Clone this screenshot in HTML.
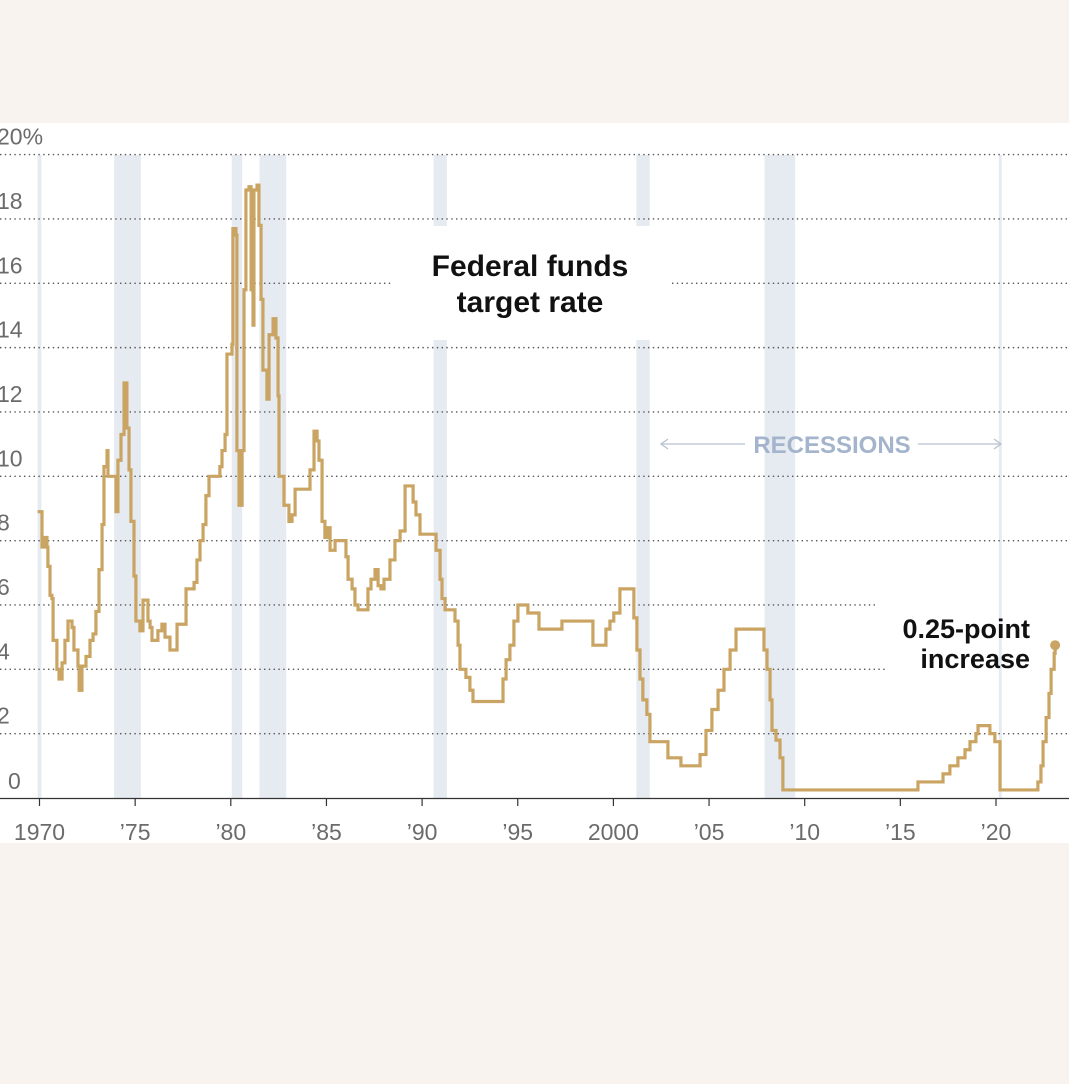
<!DOCTYPE html>
<html><head><meta charset="utf-8">
<style>
html,body{margin:0;padding:0;background:#f8f3ee;}
body{width:1069px;height:1084px;position:relative;overflow:hidden;font-family:"Liberation Sans",sans-serif;}
#panel{position:absolute;left:0;top:123px;width:1069px;height:720px;background:#fff;}
svg{position:absolute;left:0;top:0;}
</style></head>
<body>
<div id="panel"></div>
<svg id="chart" width="1069" height="1084"></svg>
<script>
const years = [1969.9,1970.13,1970.29,1970.39,1970.44,1970.55,1970.65,1970.71,1970.91,1971.02,1971.18,1971.33,1971.49,1971.70,1971.80,1972.01,1972.07,1972.22,1972.43,1972.64,1972.80,1972.95,1973.11,1973.27,1973.37,1973.53,1973.58,1974.00,1974.10,1974.26,1974.42,1974.57,1974.68,1974.78,1974.94,1975.04,1975.25,1975.41,1975.67,1975.78,1975.88,1976.19,1976.40,1976.56,1976.82,1977.19,1977.66,1978.08,1978.23,1978.39,1978.55,1978.70,1978.86,1979.43,1979.54,1979.70,1979.80,1980.06,1980.11,1980.27,1980.32,1980.43,1980.59,1980.69,1980.79,1980.95,1981.06,1981.16,1981.21,1981.37,1981.47,1981.58,1981.68,1981.89,1982.00,1982.21,1982.36,1982.47,1982.52,1982.78,1983.04,1983.20,1983.36,1983.88,1984.14,1984.35,1984.51,1984.61,1984.77,1984.92,1985.08,1985.19,1985.45,1986.02,1986.13,1986.34,1986.49,1986.65,1987.17,1987.33,1987.54,1987.70,1987.85,1988.01,1988.32,1988.58,1988.85,1989.11,1989.37,1989.53,1989.68,1989.89,1990.57,1990.73,1990.94,1991.04,1991.20,1991.72,1991.88,1991.98,1992.29,1992.50,1992.66,1994.07,1994.23,1994.39,1994.59,1994.80,1995.01,1995.53,1996.11,1997.31,1998.93,1999.61,1999.82,2000.02,2000.34,2001.07,2001.23,2001.39,2001.54,2001.75,2001.91,2002.85,2003.53,2004.53,2004.84,2005.15,2005.47,2005.78,2006.10,2006.41,2007.87,2008.03,2008.19,2008.29,2008.50,2008.71,2008.86,2015.92,2017.23,2017.59,2018.01,2018.38,2018.64,2018.95,2019.06,2019.68,2019.94,2020.21,2022.19,2022.35,2022.46,2022.62,2022.77,2022.88,2023.04,2023.09];
const rates = [8.9,7.8,8.1,7.8,7.2,6.3,6.2,4.9,4.0,3.7,4.2,4.9,5.5,5.3,4.6,4.1,3.35,4.1,4.4,4.9,5.1,5.8,7.1,8.5,10.3,10.8,10.0,8.9,10.5,11.3,12.9,11.5,10.2,8.6,6.9,5.5,5.2,6.15,5.5,5.3,4.9,5.2,5.4,5.0,4.6,5.4,6.5,6.7,7.4,8.0,8.5,9.4,10.0,10.3,10.8,11.3,13.8,14.1,17.7,17.5,10.8,9.1,10.8,15.8,18.9,19.0,15.8,14.7,18.9,19.05,17.8,15.5,13.3,12.4,14.4,14.9,14.3,12.5,10.0,9.1,8.6,8.8,9.6,9.6,10.2,11.4,11.1,10.5,8.6,8.1,8.4,7.7,8.0,7.5,6.8,6.5,6.0,5.85,6.5,6.8,7.1,6.6,6.5,6.8,7.4,8.0,8.3,9.7,9.7,9.2,8.8,8.2,8.2,7.7,6.8,6.2,5.85,5.5,4.75,4.0,3.75,3.35,3.0,3.0,3.7,4.3,4.75,5.5,6.0,5.75,5.25,5.5,4.75,5.25,5.5,5.75,6.5,5.6,4.6,3.7,3.05,2.6,1.75,1.25,1.0,1.35,2.1,2.75,3.35,4.0,4.6,5.25,4.6,4.0,3.05,2.1,1.8,1.25,0.25,0.5,0.75,1.0,1.25,1.5,1.75,2.0,2.25,2.0,1.75,0.25,0.5,1.0,1.75,2.5,3.25,4.0,4.5,4.75];
const recStart = [1969.9,1973.9,1980.05,1981.5,1990.6,2001.2,2007.9,2020.15];
const recEnd   = [1970.1,1975.3,1980.6,1982.9,1991.3,2001.9,2009.5,2020.3];
const yTicks = [0,2,4,6,8,10,12,14,16,18,20];
const xTickYears = [1970,1975,1980,1985,1990,1995,2000,2005,2010,2015,2020];
const xTickLabels = ["1970","’75","’80","’85","’90","’95","2000","’05","’10","’15","’20"];

const NS="http://www.w3.org/2000/svg";
const svg=document.getElementById('chart');
const X=y=>39.5+(y-1970)*19.13;
const Y=v=>798-v*32.17;
function mk(tag,attrs,parent){const e=document.createElementNS(NS,tag);for(const k in attrs)e.setAttribute(k,attrs[k]);(parent||svg).appendChild(e);return e;}

recStart.forEach((s,i)=>{
  const broken = (s>1990 && s<2002);
  if(broken){
    let r=mk('rect',{x:X(s),y:155,width:X(recEnd[i])-X(s),height:71,fill:'#e6ebf1'});
    
    
    let r2=mk('rect',{x:X(s),y:340,width:X(recEnd[i])-X(s),height:458,fill:'#e6ebf1'});
    
    
  } else {
    let r=mk('rect',{x:X(s),y:155,width:X(recEnd[i])-X(s),height:643,fill:'#e6ebf1'});
    
    
  }
});

yTicks.forEach(v=>{
  if(v===0)return;
  const segs = v===16?[[0,392],[672,1069]]:v===6?[[0,875]]:v===4?[[0,885]]:[[0,1069]];
  segs.forEach(sg=>{
    let l=mk('line',{x1:sg[0],x2:sg[1],y1:Y(v),y2:Y(v),stroke:'#555','stroke-width':1.4,'stroke-dasharray':'1.4 3.4'});
    
    
  });
  let t=mk('text',{x:-3,y:Y(v)-10,'font-size':23,fill:'#6b6b6b','font-family':'Liberation Sans, sans-serif'});
  t.textContent = v===20?'20%':String(v);
  
  
});
let z=mk('text',{x:8,y:Y(0)-9,'font-size':23,fill:'#6b6b6b','font-family':'Liberation Sans, sans-serif'});
z.textContent='0';



let ax=mk('line',{x1:0,x2:1069,y1:798.5,y2:798.5,stroke:'#333','stroke-width':1.2});


xTickYears.forEach((yr,i)=>{
  let tk=mk('line',{x1:X(yr),x2:X(yr),y1:799,y2:806,stroke:'#333','stroke-width':1.2});
  
  
  let t=mk('text',{x:X(yr),y:840,'font-size':23,fill:'#6b6b6b','text-anchor':'middle','font-family':'Liberation Sans, sans-serif'});
  t.textContent=xTickLabels[i];
  
  
});

let d='M'+X(years[0])+','+Y(rates[0]);
for(let i=1;i<years.length;i++){d+=' H'+X(years[i])+' V'+Y(rates[i]);}
let p=mk('path',{d:d,fill:'none',stroke:'#c9a462','stroke-width':3.2,'stroke-linejoin':'miter'});


let dot=mk('circle',{cx:X(years[years.length-1]),cy:Y(rates[rates.length-1]),r:5,fill:'#c9a462'});



[['Federal funds',276],['target rate',312]].forEach(a=>{
  let t=mk('text',{x:530,y:a[1],'font-size':30,'font-weight':'bold',fill:'#111','text-anchor':'middle','font-family':'Liberation Sans, sans-serif'});
  t.textContent=a[0];
  
  
});

let rl=mk('text',{x:832,y:453,'font-size':24,'font-weight':'bold',fill:'#a3b4cc','text-anchor':'middle','font-family':'Liberation Sans, sans-serif'});
rl.textContent='RECESSIONS';


let a1=mk('path',{d:'M745,444 H661 M668,439 L661,444 L668,449',fill:'none',stroke:'#b8c2d0','stroke-width':1.3});


let a2=mk('path',{d:'M918,444 H1001 M994,439 L1001,444 L994,449',fill:'none',stroke:'#b8c2d0','stroke-width':1.3});



[['0.25-point',638],['increase',668]].forEach(a=>{
  let t=mk('text',{x:1030,y:a[1],'font-size':27,'font-weight':'bold',fill:'#111','text-anchor':'end','font-family':'Liberation Sans, sans-serif'});
  t.textContent=a[0];
  
  
});
</script>
</body></html>
